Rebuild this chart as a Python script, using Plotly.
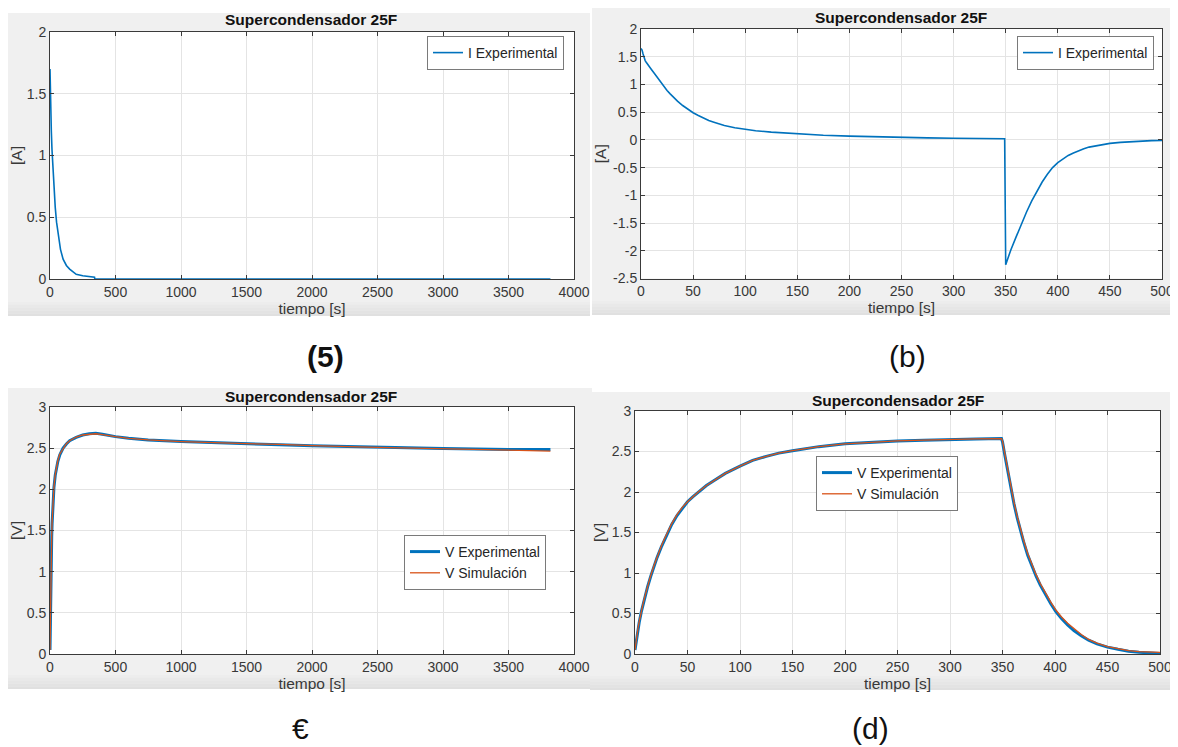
import plotly.graph_objects as go

# ---------------- data ----------------
# (a) current, long test
t_a = [0, 2, 5, 10, 15, 20, 30, 40, 50, 60, 70, 80, 100, 125, 150, 175, 200, 250, 300, 340, 342, 1000, 2000, 3000, 3820]
i_a = [1.70, 1.55, 1.38, 1.20, 1.05, 0.93, 0.73, 0.58, 0.46, 0.37, 0.30, 0.24, 0.16, 0.11, 0.08, 0.055, 0.038, 0.026, 0.019, 0.015, 0.0, 0.0, 0.0, 0.0, 0.0]

# (b) current, charge / discharge
t_b = [0, 1, 2, 3, 4, 5, 6, 8, 10, 12, 15, 18, 20, 22, 25, 28, 30, 35, 40, 45, 50, 55, 60, 65, 70, 75, 80, 90, 100,
       110, 125, 140, 150, 175, 200, 225, 250, 275, 300, 325, 349,
       350, 352, 355, 360, 365, 370, 375, 380, 385, 390, 395, 400, 405, 410, 415, 420, 425, 430, 440, 450, 460, 470,
       480, 490, 500]
i_b = [1.65, 1.62, 1.55, 1.48, 1.43, 1.40, 1.37, 1.32, 1.27, 1.22, 1.14, 1.06, 1.01, 0.96, 0.89, 0.83, 0.79, 0.70,
       0.62, 0.55, 0.49, 0.44, 0.39, 0.35, 0.32, 0.29, 0.26, 0.22, 0.19,
       0.165, 0.14, 0.12, 0.105, 0.085, 0.068, 0.055, 0.045, 0.037, 0.03, 0.025, 0.02,
       -2.25, -2.14, -1.98, -1.75, -1.52, -1.30, -1.10, -0.92, -0.76, -0.62, -0.50, -0.41, -0.34, -0.28, -0.235, -0.195,
       -0.16, -0.13, -0.09, -0.063, -0.044, -0.03, -0.02, -0.014, -0.01]

# (c) voltage, long test
t_c = [0, 2, 4, 6, 8, 10, 13, 16, 20, 25, 30, 40, 50, 60, 75, 100, 125, 150, 200, 250, 300, 350, 400, 450, 500,
       600, 750, 1000, 1250, 1500, 1750, 2000, 2500, 3000, 3500, 3820]
v_exp_c = [0.05, 0.35, 0.62, 0.85, 1.05, 1.22, 1.42, 1.58, 1.75, 1.90, 2.02, 2.17, 2.27, 2.34, 2.42, 2.50, 2.55,
           2.59, 2.63, 2.66, 2.675, 2.68, 2.67, 2.655, 2.64,
           2.62, 2.60, 2.58, 2.565, 2.55, 2.54, 2.53, 2.51, 2.495, 2.485, 2.485]
v_sim_c = [0.05, 0.37, 0.64, 0.87, 1.07, 1.24, 1.44, 1.60, 1.77, 1.92, 2.03, 2.18, 2.28, 2.35, 2.43, 2.50, 2.555,
           2.59, 2.635, 2.66, 2.67, 2.675, 2.665, 2.65, 2.64,
           2.62, 2.60, 2.58, 2.565, 2.555, 2.545, 2.53, 2.51, 2.49, 2.475, 2.465]

# (d) voltage, charge / discharge
t_d = [0, 1, 2, 3, 4, 6, 8, 10, 12, 15, 18, 21, 25, 28, 31, 35, 40, 45, 50, 55, 61, 68, 75, 86, 100, 112, 125, 137,
       150, 175, 200, 225, 250, 275, 300, 325, 349,
       350, 352, 355, 358, 361, 364, 367, 370, 374, 378, 382, 386, 391, 396, 401, 406, 412, 418, 425, 432, 440, 450,
       460, 470, 480, 490, 500]
v_exp_d = [0.05, 0.15, 0.24, 0.32, 0.39, 0.52, 0.63, 0.73, 0.83, 0.96, 1.08, 1.19, 1.32, 1.41, 1.50, 1.60, 1.71,
           1.80, 1.88, 1.94, 2.01, 2.08, 2.14, 2.23, 2.32, 2.39, 2.44, 2.48,
           2.51, 2.56, 2.595, 2.615, 2.63, 2.64, 2.65, 2.655, 2.66,
           2.62, 2.47, 2.25, 2.03, 1.85, 1.68, 1.52, 1.39, 1.22, 1.08, 0.96, 0.85, 0.73, 0.62, 0.52, 0.44, 0.36, 0.29,
           0.225, 0.17, 0.125, 0.085, 0.058, 0.035, 0.022, 0.012, 0.005]
v_sim_d = [0.05, 0.16, 0.25, 0.33, 0.40, 0.53, 0.64, 0.74, 0.84, 0.97, 1.09, 1.20, 1.33, 1.42, 1.51, 1.61, 1.72,
           1.81, 1.88, 1.94, 2.01, 2.08, 2.14, 2.23, 2.32, 2.39, 2.44, 2.48,
           2.51, 2.56, 2.595, 2.615, 2.63, 2.64, 2.65, 2.655, 2.66,
           2.63, 2.49, 2.27, 2.05, 1.87, 1.70, 1.54, 1.41, 1.24, 1.10, 0.98, 0.87, 0.75, 0.64, 0.54, 0.46, 0.38, 0.31,
           0.24, 0.18, 0.135, 0.09, 0.062, 0.042, 0.03, 0.022, 0.02]

# tick labels
xt_long = [0, 500, 1000, 1500, 2000, 2500, 3000, 3500, 4000]
xt_short = [0, 50, 100, 150, 200, 250, 300, 350, 400, 450, 500]
yt_a = [0, 0.5, 1, 1.5, 2]
yt_b = [-2.5, -2, -1.5, -1, -0.5, 0, 0.5, 1, 1.5, 2]
yt_b_text = ["-2.5", "-2", "-1.5", "-1", "-0.5", "0", "0.5", "1", "1.5", "2"]
yt_v = [0, 0.5, 1, 1.5, 2, 2.5, 3]

title_txt = "Supercondensador 25F"
panel_labels = ["(5)", "(b)", "€", "(d)"]

# ---------------- styling ----------------
# the page body has an 8px margin, so the figure is drawn 8px in from the window's corner
OFF = 8
W, H = 1178 - OFF, 747 - OFF
FONT = "Liberation Sans"
BLUE = "#0072BD"
ORANGE = "#D95319"
AXC = "#3a3a3a"
GRID = "#e4e4e4"


def X(p):
    return max(0.0, (p - OFF) / W)


def Y(p):
    return min(1.0, 1 - (p - OFF) / H)


# plot areas in window pixels: (left, right, top, bottom)
boxes = {
    "a": (50, 574, 32, 279),
    "b": (641, 1162, 29, 278.5),
    "c": (50, 574, 407, 654),
    "d": (635, 1160, 411, 654),
}
# figure (gray) areas in window pixels
grays = {
    "a": (8, 590, 13, 316),
    "b": (592, 1178, 7, 315),
    "c": (8, 592, 388, 689),
    "d": (590, 1176, 392, 690),
}

fig = go.Figure()

fig.add_trace(go.Scatter(x=t_a, y=i_a, mode="lines", name="I Experimental",
                         line=dict(color=BLUE, width=1.6), xaxis="x", yaxis="y", legend="legend"))
fig.add_trace(go.Scatter(x=t_b, y=i_b, mode="lines", name="I Experimental",
                         line=dict(color=BLUE, width=1.6), xaxis="x2", yaxis="y2", legend="legend2"))
fig.add_trace(go.Scatter(x=t_c, y=v_exp_c, mode="lines", name="V Experimental",
                         line=dict(color=BLUE, width=3), xaxis="x3", yaxis="y3", legend="legend3"))
fig.add_trace(go.Scatter(x=t_c, y=v_sim_c, mode="lines", name="V Simulación",
                         line=dict(color=ORANGE, width=1.3), xaxis="x3", yaxis="y3", legend="legend3"))
fig.add_trace(go.Scatter(x=t_d, y=v_exp_d, mode="lines", name="V Experimental",
                         line=dict(color=BLUE, width=3), xaxis="x4", yaxis="y4", legend="legend4"))
fig.add_trace(go.Scatter(x=t_d, y=v_sim_d, mode="lines", name="V Simulación",
                         line=dict(color=ORANGE, width=1.3), xaxis="x4", yaxis="y4", legend="legend4"))

tickfont = dict(family=FONT, size=14, color="#383838")
labfont = dict(family=FONT, size=15.5, color="#383838")


def xaxis(box, rng, vals, anchor):
    l, r, t, b = box
    return dict(domain=[X(l), X(r)], range=rng, tickvals=vals, anchor=anchor, automargin=False,
                showgrid=True, gridcolor=GRID, gridwidth=1, zeroline=False,
                showline=True, linecolor=AXC, linewidth=1, mirror="ticks",
                ticks="inside", ticklen=4, tickcolor=AXC, tickfont=tickfont,
                title=dict(text="tiempo [s]", font=labfont, standoff=2))


def yaxis(box, rng, vals, text, label, anchor):
    l, r, t, b = box
    return dict(domain=[Y(b), Y(t)], range=rng, tickvals=vals, ticktext=text, anchor=anchor, automargin=False,
                showgrid=True, gridcolor=GRID, gridwidth=1, zeroline=False,
                showline=True, linecolor=AXC, linewidth=1, mirror="ticks",
                ticks="inside", ticklen=4, tickcolor=AXC, tickfont=tickfont,
                title=dict(text=label, font=labfont, standoff=2))


legend_common = dict(bgcolor="white", bordercolor="#7a7a7a", borderwidth=1,
                     font=dict(family=FONT, size=14, color="#262626"),
                     itemwidth=30, tracegroupgap=0, xanchor="right", yanchor="top")

shapes = []
for k in ["a", "b", "c", "d"]:
    gl, gr, gt, gb = grays[k]
    shapes.append(dict(type="rect", xref="paper", yref="paper", x0=X(gl), x1=X(gr), y0=Y(gb), y1=Y(gt),
                       fillcolor="#f0f0f0", line=dict(width=0), layer="below"))
    band_cols = ["#ededed", "#e9e9e9", "#e6e6e6", "#e3e3e3", "#e0e0e0"]
    for j, c in enumerate(band_cols):
        y0p = gb - 14 + j * 2.8
        shapes.append(dict(type="rect", xref="paper", yref="paper", x0=X(gl), x1=X(gr),
                           y0=Y(y0p + 2.8), y1=Y(y0p), fillcolor=c, line=dict(width=0), layer="below"))
    l, r, t, b = boxes[k]
    shapes.append(dict(type="rect", xref="paper", yref="paper", x0=X(l), x1=X(r), y0=Y(b), y1=Y(t),
                       fillcolor="white", line=dict(width=0), layer="below"))

annotations = []
title_pos = [(311, 20), (901, 17), (311, 396), (898, 400)]
for (cx, cy) in title_pos:
    annotations.append(dict(text="<b>" + title_txt + "</b>", x=X(cx), y=Y(cy), xref="paper", yref="paper",
                            xanchor="center", yanchor="middle", showarrow=False,
                            font=dict(family=FONT, size=15.5, color="#111111")))
label_pos = [(325, 356, True), (907, 356, False), (300, 728, False), (870, 728, False)]
for txt, (cx, cy, bold) in zip(panel_labels, label_pos):
    annotations.append(dict(text=("<b>" + txt + "</b>") if bold else txt, x=X(cx), y=Y(cy),
                            xref="paper", yref="paper", xanchor="center", yanchor="middle", showarrow=False,
                            font=dict(family=FONT, size=30, color="#111111")))

fig.update_layout(
    width=W, height=H, margin=dict(l=0, r=0, t=0, b=0, pad=0, autoexpand=False),
    paper_bgcolor="white", plot_bgcolor="white",
    font=dict(family=FONT, color="#333333"),
    xaxis=xaxis(boxes["a"], [0, 4000], xt_long, "y"),
    yaxis=yaxis(boxes["a"], [0, 2], yt_a, None, "[A]", "x"),
    xaxis2=xaxis(boxes["b"], [0, 500], xt_short, "y2"),
    yaxis2=yaxis(boxes["b"], [-2.5, 2], yt_b, yt_b_text, "[A]", "x2"),
    xaxis3=xaxis(boxes["c"], [0, 4000], xt_long, "y3"),
    yaxis3=yaxis(boxes["c"], [0, 3], yt_v, None, "[V]", "x3"),
    xaxis4=xaxis(boxes["d"], [0, 500], xt_short, "y4"),
    yaxis4=yaxis(boxes["d"], [0, 3], yt_v, None, "[V]", "x4"),
    legend=dict(x=X(564), y=Y(36), **legend_common),
    legend2=dict(x=X(1154), y=Y(36), **legend_common),
    legend3=dict(x=X(546), y=Y(535), **legend_common),
    legend4=dict(x=X(958), y=Y(456), **legend_common),
    shapes=shapes,
    annotations=annotations,
    showlegend=True,
)

fig.write_html("out.html")
